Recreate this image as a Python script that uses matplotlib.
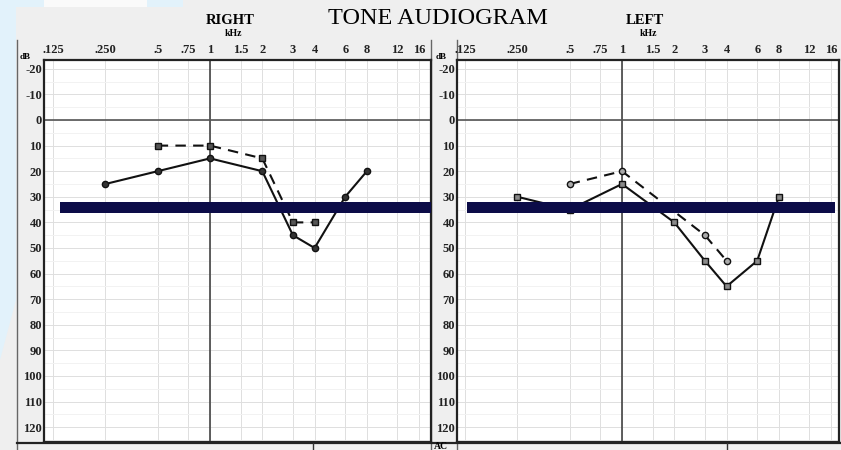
import numpy as np
import matplotlib
matplotlib.use("Agg")
import matplotlib.pyplot as plt
from matplotlib.patches import Polygon

plt.rcParams['font.family'] = ['Liberation Serif', 'DejaVu Serif']

# Audiogram frequency grid (Hz) and its printed labels
freq_ticks = [125, 250, 500, 750, 1000, 1500, 2000, 3000, 4000, 6000, 8000, 12000, 16000]
freq_labels = ['.125', '.250', '.5', '.75', '1', '1.5', '2', '3', '4', '6', '8', '12', '16']
db_ticks = list(range(-20, 121, 10))

# Right ear
right_solid_freq = [250, 500, 1000, 2000, 3000, 4000, 6000, 8000]
right_solid_db = [25, 20, 15, 20, 45, 50, 30, 20]
right_dash_freq = [500, 1000, 2000, 3000, 4000]
right_dash_db = [10, 10, 15, 40, 40]

# Left ear
left_solid_freq = [250, 500, 1000, 2000, 3000, 4000, 6000, 8000]
left_solid_db = [30, 35, 25, 40, 55, 65, 55, 30]
left_dash_freq = [500, 1000, 3000, 4000]
left_dash_db = [25, 20, 45, 55]

# Reference level band
band_low, band_high = 31.9, 36.3

W, H = 841, 450
fig = plt.figure(figsize=(W / 100, H / 100), dpi=100)
fig.patch.set_facecolor('#efefef')

# Background layer in pixel coordinates
bg = fig.add_axes([0, 0, 1, 1], zorder=-1)
bg.set_xlim(0, W)
bg.set_ylim(H, 0)
bg.axis('off')
blue = '#e2f2fb'
bg.add_patch(Polygon([[0, 0], [44, 0], [44, 7], [0, 7]], closed=True, color=blue, lw=0))
bg.add_patch(Polygon([[147, 0], [183, 0], [183, 7], [147, 7]], closed=True, color=blue, lw=0))
bg.add_patch(Polygon([[44, 0], [147, 0], [147, 7], [44, 7]], closed=True, color='#fafafa', lw=0))
bg.add_patch(Polygon([[0, 7], [16, 7], [16, 300], [0, 360]], closed=True, color=blue, lw=0))

# label column borders and the strip below the grids
for x in [17, 431, 457]:
    bg.plot([x, x], [40, H], color='#666666', lw=1.0)
bg.plot([17, W], [443, 443], color='#222222', lw=1.6)
for x in [313, 727]:
    bg.plot([x, x], [443, H], color='#333333', lw=1.0)
bg.text(441, 446.5, 'AC', ha='center', va='center', fontsize=7, fontweight='bold')

# headings
bg.text(438, 18, 'TONE AUDIOGRAM', ha='center', va='center', fontsize=17.5)
bg.text(230, 21, 'RIGHT', ha='center', va='center', fontsize=10.5, fontweight='bold')
bg.text(233, 33, 'kHz', ha='center', va='center', fontsize=7, fontweight='bold')
bg.text(645, 21, 'LEFT', ha='center', va='center', fontsize=10.5, fontweight='bold')
bg.text(648, 33, 'kHz', ha='center', va='center', fontsize=7, fontweight='bold')
bg.text(25, 57, 'dB', ha='center', va='center', fontsize=6.5, fontweight='bold')
bg.text(441, 57, 'dB', ha='center', va='center', fontsize=6.5, fontweight='bold')


def panel(left, right, x1k, solid, dash, solid_marker, dash_marker, mfc_solid, mfc_dash, band_x):
    top, bottom = 60, 442
    ax = fig.add_axes([left / W, (H - bottom) / H, (right - left) / W, (bottom - top) / H])
    ax.set_facecolor('white')
    octave = 52.3
    ax.set_xscale('log', base=2)
    ax.set_xlim(1000 * 2 ** ((left - x1k) / octave), 1000 * 2 ** ((right - x1k) / octave))
    px_per_db = 2.56
    ax.set_ylim((bottom - 120) / px_per_db, (top - 120) / px_per_db)

    # grid
    for f in freq_ticks:
        ax.axvline(f, color='#dedede', lw=0.7, zorder=0)
    for d in range(-20, 126, 5):
        ax.axhline(d, color='#dedede' if d % 10 == 0 else '#f2f2f2', lw=0.7, zorder=0)
    ax.axvline(1000, color='#444444', lw=1.2, zorder=1)
    ax.axhline(0, color='#555555', lw=1.2, zorder=1)

    ax.set_xticks(freq_ticks)
    ax.set_xticklabels(freq_labels)
    ax.minorticks_off()
    ax.xaxis.tick_top()
    ax.tick_params(axis='x', length=0, pad=3, labelsize=9, labelcolor='#222222')
    ax.set_yticks(db_ticks)
    ax.set_yticklabels([str(v) for v in db_ticks])
    ax.tick_params(axis='y', length=0, pad=1.5, labelsize=9, labelcolor='#222222')
    for lab in ax.get_xticklabels() + ax.get_yticklabels():
        lab.set_fontweight('bold')
    for s in ax.spines.values():
        s.set_linewidth(1.6)
        s.set_color('#222222')

    ax.plot(solid[0], solid[1], color='#111111', lw=1.5, marker=solid_marker, ms=4.5,
            mfc=mfc_solid, mec='#111111', mew=1.0, zorder=3)
    ax.plot(dash[0], dash[1], color='#111111', lw=1.5, ls=(0, (5, 3.5)), marker=dash_marker,
            ms=4.5, mfc=mfc_dash, mec='#111111', mew=1.0, zorder=3)
    ax.axhspan(band_low, band_high, xmin=band_x[0], xmax=band_x[1], color='#0c0c48', lw=0, zorder=4)
    return ax


panel(44, 431, 210, (right_solid_freq, right_solid_db), (right_dash_freq, right_dash_db),
      'o', 's', '#333333', '#555555', ((60 - 44) / 387, 1.0))
panel(457, 839, 622, (left_solid_freq, left_solid_db), (left_dash_freq, left_dash_db),
      's', 'o', '#8a8a8a', '#aaaaaa', ((467 - 457) / 382, (835 - 457) / 382))

fig.savefig('out.png', dpi=100, facecolor=fig.get_facecolor())
